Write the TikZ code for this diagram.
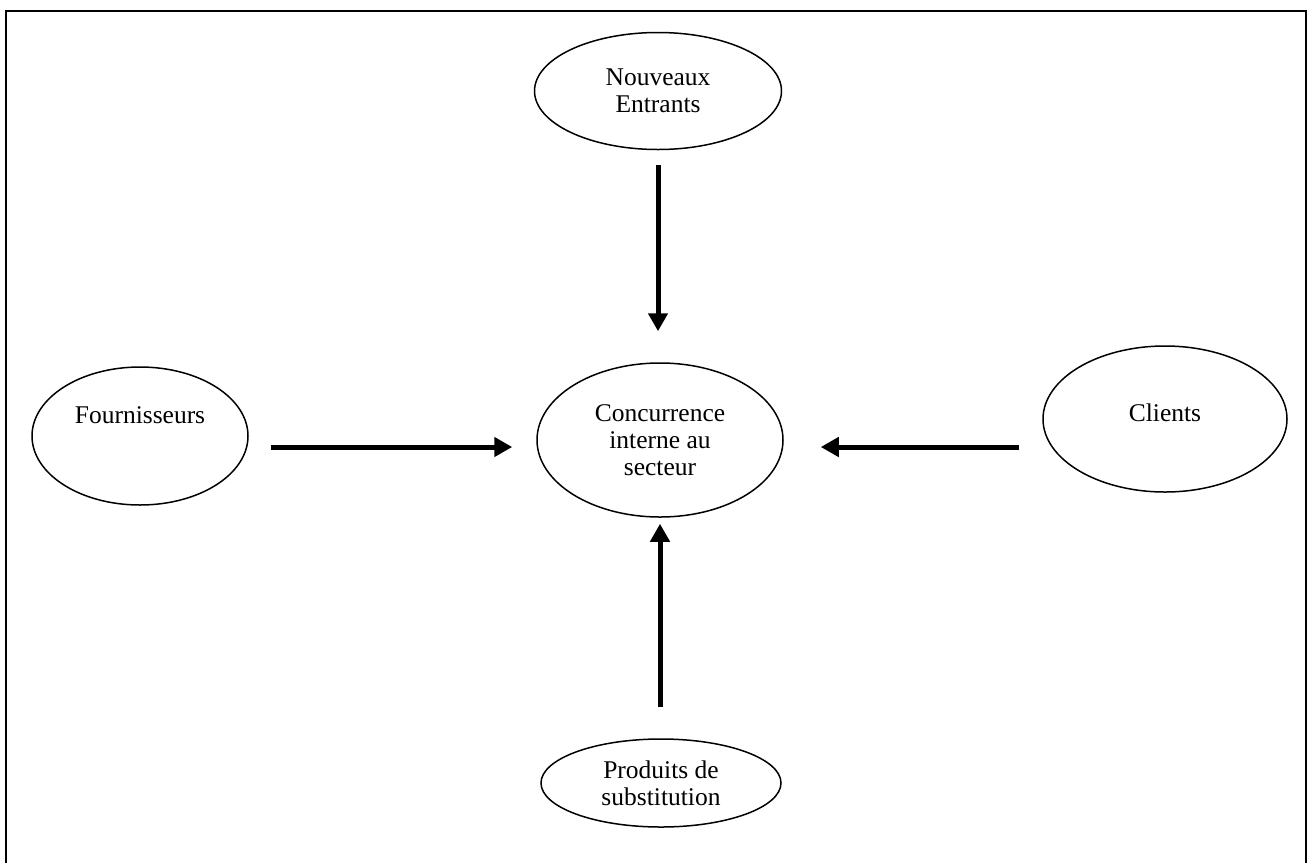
\documentclass[tikz,border=0pt]{standalone}
\usepackage{fontspec}
\setmainfont{Liberation Serif}
\usetikzlibrary{shapes.geometric,arrows.meta,calc}
\begin{document}
\begin{tikzpicture}[x=1pt,y=-1pt,
  oval/.style={ellipse,draw,line width=1.5pt,inner sep=0pt,font=\fontsize{25.5}{27}\selectfont,align=center},
  lbl/.style={font=\fontsize{25.5}{27}\selectfont,align=center,inner sep=0pt},
  arr/.style={line width=5pt,-{Triangle[length=18pt,width=19pt]}}]
\useasboundingbox (0,0) rectangle (1312,863);
\draw[line width=2.4pt] (6,863) -- (6,11) -- (1306,11) -- (1306,863);

\node[oval,minimum width=247,minimum height=117] (n) at (658,91) {Nouveaux\\Entrants};
\node[oval,minimum width=246,minimum height=154] (c) at (660,440) {Concurrence\\interne au\\secteur};
\node[oval,minimum width=240,minimum height=88] (p) at (661,783) {Produits de\\substitution};
\node[oval,minimum width=216,minimum height=138] (f) at (140,436) {};
\node[lbl] (ft) at (140,415) {Fournisseurs};
\node[oval,minimum width=244,minimum height=146] (cl) at (1165,419) {};
\node[lbl] (clt) at (1165,413) {Clients};

\draw[arr] ($(n.south)+(0,15)$) -- ($(c.north)+(-2,-31)$);
\draw[arr] ($(f.east)+(22,11)$) -- ($(c.west)+(-24,7)$);
\draw[arr] ($(cl.west)+(-23,28)$) -- ($(c.east)+(37,7)$);
\draw[arr] ($(p.north)+(-1,-31)$) -- ($(c.south)+(0,6)$);
\end{tikzpicture}
\end{document}
